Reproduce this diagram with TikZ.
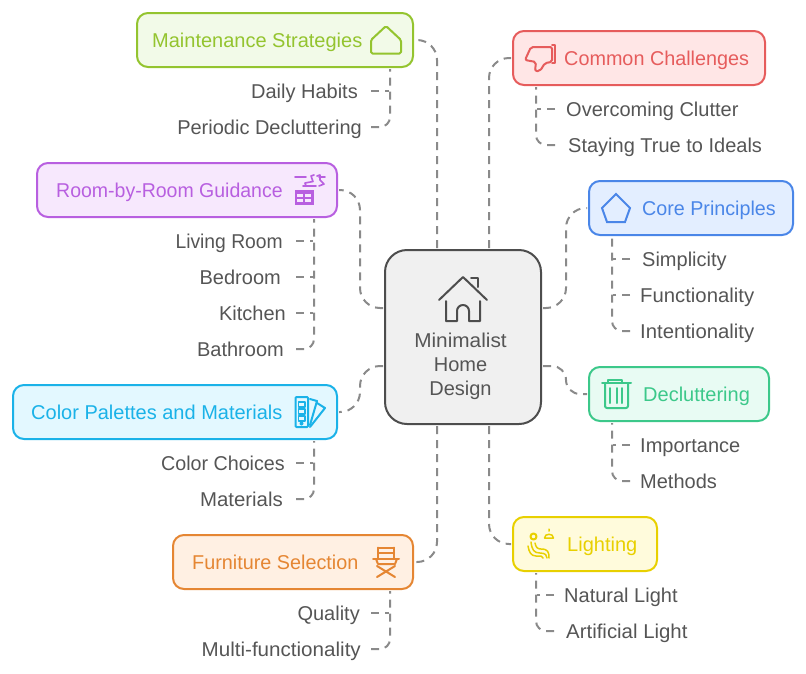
\documentclass[tikz,border=0pt]{standalone}
\usepackage{fontspec}
\setmainfont{Liberation Sans}
\usetikzlibrary{calc}

\definecolor{inkgray}{HTML}{555555}
\definecolor{linegray}{HTML}{8A8A8A}
\definecolor{coreedge}{HTML}{4D4D4D}
\definecolor{corefill}{HTML}{F0F0F0}
\definecolor{maintedge}{HTML}{94C42F}
\definecolor{maintfill}{HTML}{F2FAE8}
\definecolor{chaledge}{HTML}{E65C5C}
\definecolor{chalfill}{HTML}{FFE6E6}
\definecolor{roomedge}{HTML}{B85FE0}
\definecolor{roomfill}{HTML}{F7E8FD}
\definecolor{prinedge}{HTML}{4A86E8}
\definecolor{prinfill}{HTML}{E3EEFF}
\definecolor{paledge}{HTML}{1AB2E8}
\definecolor{palfill}{HTML}{E3F8FF}
\definecolor{decledge}{HTML}{3CC88A}
\definecolor{declfill}{HTML}{E8FBF3}
\definecolor{furnedge}{HTML}{E58633}
\definecolor{furnfill}{HTML}{FFF0E3}
\definecolor{lightedge}{HTML}{E8D000}
\definecolor{lightfill}{HTML}{FFFBDC}

\tikzset{
  topic/.style={draw=#1edge, fill=#1fill, line width=2pt, rounded corners=11pt, inner sep=0pt},
  title/.style={text=#1edge, anchor=west, inner sep=0pt, text height=18pt, text depth=4pt, font=\fontsize{20}{24}\selectfont},
  leafl/.style={text=inkgray, anchor=east, inner ysep=0pt, inner xsep=#1, text height=18pt, text depth=4pt, font=\fontsize{20}{24}\selectfont},
  leafl/.default=8pt,
  leafr/.style={text=inkgray, anchor=west, inner ysep=0pt, inner xsep=#1, text height=18pt, text depth=4pt, font=\fontsize{20}{24}\selectfont},
  leafr/.default=9pt,
  link/.style={draw=linegray, line width=2pt, dash pattern=on 8pt off 6pt, shorten <=1pt, shorten >=1pt},
  glyph/.style={draw=#1edge, line width=2pt, line join=round, line cap=round, fill=none},
}

\begin{document}
\begin{tikzpicture}[x=1pt,y=-1pt]
    \useasboundingbox (0,0) rectangle (806,673);
    % centre
    \node[draw=coreedge, fill=corefill, line width=2pt, rounded corners=22pt, minimum width=156pt, minimum height=174pt] (center) at (463,337) {};
    \node[text=inkgray, align=center, inner sep=0pt, font=\fontsize{20}{24}\selectfont] (centerlabel) at (460.5,366) {{\addfontfeature{FakeStretch=1.04}Minimalist}\\Home\\Design};

    % topic boxes
    \node[topic=maint, minimum width=276pt, minimum height=54pt] (maint) at (275,40) {};
    \node[topic=chal, minimum width=252pt, minimum height=54pt] (chal) at (639,58) {};
    \node[topic=room, minimum width=300pt, minimum height=54pt] (room) at (187,190) {};
    \node[topic=prin, minimum width=204pt, minimum height=54pt] (prin) at (691,208) {};
    \node[topic=pal, minimum width=324pt, minimum height=54pt] (pal) at (175,412) {};
    \node[topic=decl, minimum width=180pt, minimum height=54pt] (decl) at (679,394) {};
    \node[topic=furn, minimum width=240pt, minimum height=54pt] (furn) at (293,562) {};
    \node[topic=light, minimum width=144pt, minimum height=54pt] (light) at (585,544) {};

    \node[title=maint] (mainttitle) at (152,40) {Maintenance Strategies};
    \node[title=chal] (chaltitle) at (564,58) {\addfontfeature{FakeStretch=0.99}Common Challenges};
    \node[title=room] (roomtitle) at (56,190) {\addfontfeature{FakeStretch=0.975}Room-by-Room Guidance};
    \node[title=prin] (printitle) at (642,208) {\addfontfeature{FakeStretch=0.985}Core Principles};
    \node[title=pal] (paltitle) at (31,412) {Color Palettes and Materials};
    \node[title=decl] (decltitle) at (643,394) {Decluttering};
    \node[title=furn] (furntitle) at (192,562) {\addfontfeature{FakeStretch=0.99}Furniture Selection};
    \node[title=light] (lighttitle) at (567,544) {Lighting};

    % leaves
    \node[leafl=12pt] (habits) at (370,91) {Daily Habits};
    \node[leafl=8pt] (periodic) at (370,127) {Periodic Decluttering};
    \node[leafl=12pt] (living) at (295,241) {\addfontfeature{FakeStretch=0.965}Living Room};
    \node[leafl=14pt] (bedroom) at (295,277) {Bedroom};
    \node[leafl=9pt] (kitchen) at (295,313) {Kitchen};
    \node[leafl=11pt] (bathroom) at (295,349) {Bathroom};
    \node[leafl=10pt] (choices) at (295,463) {\addfontfeature{FakeStretch=0.985}Color Choices};
    \node[leafl=12pt] (materials) at (295,499) {\addfontfeature{FakeStretch=1.02}Materials};
    \node[leafl=10pt] (quality) at (370,613) {Quality};
    \node[leafl=9pt] (multi) at (370,649) {\addfontfeature{FakeStretch=1.03}Multi-functionality};
    \node[leafr=10pt] (clutter) at (556,109) {Overcoming Clutter};
    \node[leafr=12pt] (ideals) at (556,145) {Staying True to Ideals};
    \node[leafr=11pt] (simple) at (631,259) {Simplicity};
    \node[leafr] (func) at (631,295) {\addfontfeature{FakeStretch=1.015}Functionality};
    \node[leafr] (intent) at (631,331) {\addfontfeature{FakeStretch=1.015}Intentionality};
    \node[leafr] (import) at (631,445) {Importance};
    \node[leafr] (methods) at (631,481) {Methods};
    \node[leafr] (natural) at (555,595) {Natural Light};
    \node[leafr=11pt] (artificial) at (555,631) {\addfontfeature{FakeStretch=1.02}Artificial Light};

    % centre to topics
    \draw[link, rounded corners=20pt] ([xshift=-26pt]center.north) |- (maint.east);
    \draw[link, rounded corners=20pt] ([xshift=26pt]center.north) |- (chal.west);
    \draw[link, rounded corners=20pt] ([xshift=-26pt]center.south) |- (furn.east);
    \draw[link, rounded corners=20pt] ([xshift=26pt]center.south) |- (light.west);
    \draw[link, rounded corners=20pt] ([yshift=29pt]center.west) -- ++(-24,0) |- (room.east);
    \draw[link, rounded corners=20pt] ([yshift=-29pt]center.west) -- ++(-24,0) |- (pal.east);
    \draw[link, rounded corners=20pt] ([yshift=29pt]center.east) -- ++(24,0) |- (prin.west);
    \draw[link, rounded corners=14pt] ([yshift=-29pt]center.east) -- ++(24,0) |- (decl.west);

    % stems under the topics
    \foreach \t in {maint,room,pal,furn}
        \coordinate (\t stem) at ([xshift=-24pt]\t.south east);
    \foreach \t in {chal,prin,decl,light}
        \coordinate (\t stem) at ([xshift=24pt]\t.south west);

    % last leaf runs up to its topic, the others stop at the stem
    \foreach \to/\from in {periodic/maint,bathroom/room,materials/pal,multi/furn}
        \draw[link, rounded corners=10pt] (\to.east) -| (\from stem);
    \foreach \to/\from in {ideals/chal,intent/prin,methods/decl,artificial/light}
        \draw[link, rounded corners=10pt] (\to.west) -| (\from stem);
    \foreach \to/\from in {habits/maint,living/room,bedroom/room,kitchen/room,choices/pal,quality/furn}
        \draw[link] (\to.east) -- (\to.east -| \from stem);
    \foreach \to/\from in {clutter/chal,simple/prin,func/prin,import/decl,natural/light}
        \draw[link] (\to.west) -- (\to.west -| \from stem);

    % house in the centre
    \draw[draw=coreedge, line width=2pt, line join=round, line cap=round] (439,300) -- (463,277) -- (487,300);
    \draw[draw=coreedge, line width=2pt, line join=round, line cap=round] (471,278) -- (478,278) -- (478,287);
    \draw[draw=coreedge, line width=2pt, line join=round, line cap=round] (446,301) -- (446,321) -- (457,321) -- (457,311) arc[start angle=180, end angle=360, radius=6pt, y radius=-6pt] -- (469,321) -- (480,321) -- (480,301);

    % icons
    \draw[glyph=maint, rounded corners=1.5pt] (371,53.5) -- (371,40) -- (386,26) -- (401,40) -- (401,53.5) -- cycle;
    \draw[glyph=chal, rounded corners=2pt] (525,60) -- (531,47) -- (552,47) -- (552,62) -- (545,63) -- (540,71) -- (535,71) -- (536,62) -- cycle;
    \draw[glyph=chal] (552,45) -- (555,45) -- (555,63) -- (552,63);
    \draw[glyph=prin, line join=miter] (616,194) -- (630,208) -- (625,222) -- (607,222) -- (602,208) -- cycle;

    % hangers and chest
    \draw[glyph=room, line width=1.6pt] (295,177) -- (306,177) (319,177) -- (325,177);
    \draw[glyph=room, line width=1.6pt] (306,186) -- (305,183) -- (313,181.5) -- (311,176) -- (314,175);
    \draw[glyph=room, line width=1.6pt] (303,186) -- (316,186);
    \draw[glyph=room, line width=1.6pt] (317,176) -- (320,175) -- (320,180) -- (324,184) -- (319,186);
    \fill[roomedge] (295,190) rectangle (314,205);
    \foreach \x in {297,305}
        \foreach \y in {194,199}
            \fill[roomfill] (\x,\y) rectangle ++(6,3);

    % swatches
    \draw[glyph=pal, rounded corners=1pt] (295.5,397) rectangle (308,427);
    \foreach \y in {402,409,416}
        \draw[glyph=pal, line width=1.6pt] (298.5,\y) rectangle (305,\y+5);
    \fill[paledge] (301.5,423.5) circle (2pt);
    \draw[glyph=pal] (310,399) -- (317,401) -- (310,425);
    \draw[glyph=pal] (317,403) -- (325,408) -- (310,427);

    % trash can
    \draw[glyph=decl] (602,383) -- (631,383);
    \draw[glyph=decl] (608,383) -- (608,380) -- (622,380) -- (622,383);
    \draw[glyph=decl, rounded corners=2pt] (605,384) -- (605,408) -- (628,408) -- (628,384);
    \foreach \x in {610,616.5,622}
        \draw[glyph=decl] (\x,388) -- (\x,403);

    % folding chair
    \draw[glyph=furn] (378,547.5) -- (394,547.5) (378,553) -- (394,553);
    \draw[glyph=furn] (378,547.5) -- (378,559) (394,547.5) -- (394,559);
    \draw[glyph=furn] (373,559) -- (399,559);
    \draw[glyph=furn] (376,559) -- (378,564) -- (395,564) -- (397,559);
    \draw[glyph=furn] (377,577) -- (395,566) (395,577) -- (377,566);

    % reading chair and lamp
    \draw[glyph=light] (533.5,536.5) circle (3pt);
    \draw[glyph=light, line width=1.5pt] (531,542) .. controls (532,550) and (534,553) .. (540,553) .. controls (546,553) and (547,556) .. (547,558);
    \draw[glyph=light, line width=1.5pt] (535,543) .. controls (536,547) and (537,549) .. (541,549) .. controls (548,549) and (549,552) .. (549,558);
    \draw[glyph=light, line width=1.5pt] (528,546) .. controls (529,552) and (531,556) .. (536,556) .. controls (541,556) and (543,556) .. (543,558);
    \draw[glyph=light, line width=1.5pt] (549,529) -- (549,531) (544.5,538) .. controls (544.5,533) and (553.5,533) .. (553.5,538) -- cycle;
\end{tikzpicture}
\end{document}
